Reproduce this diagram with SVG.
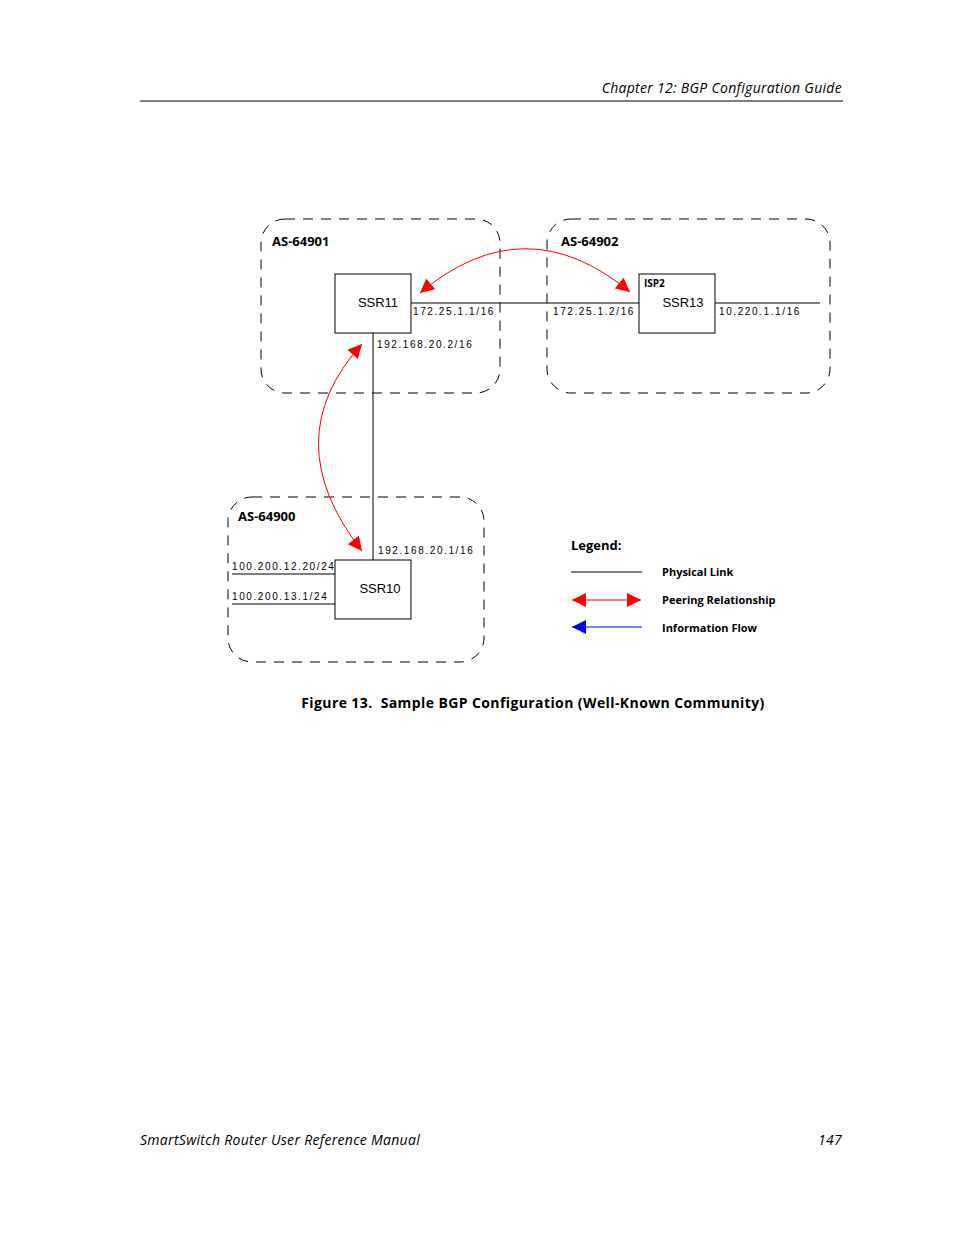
<svg xmlns="http://www.w3.org/2000/svg" width="954" height="1235" viewBox="0 0 954 1235">
<style>
.hdr{font-family:"Open Sans","DejaVu Sans",sans-serif;font-style:italic;font-size:14px;fill:#000;letter-spacing:0.3px}
.as{font-family:"Open Sans","DejaVu Sans",sans-serif;font-weight:bold;font-size:13px}
.nm{font-family:"Liberation Sans",Arial,sans-serif;font-size:13px}
.ip{font-family:"Liberation Sans",Arial,sans-serif;font-size:10px;letter-spacing:1.6px}
.lg{font-family:"Open Sans","DejaVu Sans",sans-serif;font-weight:bold;font-size:11px}
.box{fill:#fff;stroke:#000;stroke-width:1}
.dash{fill:none;stroke:#000;stroke-width:1;stroke-dasharray:10,8}
.ln{stroke:#000;stroke-width:1;fill:none}
.red{stroke:#f00;stroke-width:1;fill:none}
</style>
<defs>
<marker id="ar" viewBox="0 0 10 10" refX="10" refY="5" markerWidth="18" markerHeight="14" markerUnits="userSpaceOnUse" orient="auto-start-reverse"><path d="M0,0 L10,5 L0,10 Z" fill="#f00"/></marker>
<marker id="ab" viewBox="0 0 10 10" refX="10" refY="5" markerWidth="18" markerHeight="14" markerUnits="userSpaceOnUse" orient="auto-start-reverse"><path d="M0,0 L10,5 L0,10 Z" fill="#00f"/></marker>
</defs>
<text class="hdr" x="842" y="93" text-anchor="end">Chapter 12: BGP Configuration Guide</text>
<line x1="140" y1="101" x2="843" y2="101" stroke="#000"/>
<g id="as64901"><rect class="dash" x="261" y="219" width="239" height="174" rx="24"/><text class="as" x="272" y="246">AS-64901</text></g>
<g id="as64902"><rect class="dash" x="547" y="219" width="283" height="174" rx="24"/><text class="as" x="561" y="246">AS-64902</text></g>
<g id="as64900"><rect class="dash" x="228" y="497" width="256" height="165" rx="24"/><text class="as" x="238" y="521">AS-64900</text></g>
<g id="connectors">
<line class="ln" x1="411" y1="303" x2="639" y2="303"/>
<line class="ln" x1="715" y1="303" x2="820" y2="303"/>
<line class="ln" x1="373" y1="333" x2="373" y2="560"/>
<line class="ln" x1="232" y1="574" x2="335" y2="574"/>
<line class="ln" x1="232" y1="604" x2="335" y2="604"/>
<path class="red" d="M420,293 Q525,205 630,292" marker-start="url(#ar)" marker-end="url(#ar)"/>
<path class="red" d="M362,344 Q275,440 362,551" marker-start="url(#ar)" marker-end="url(#ar)"/>
</g>
<g id="ssr11"><rect class="box" x="335" y="274" width="76" height="59"/><text class="nm" x="378" y="307" text-anchor="middle">SSR11</text></g>
<g id="ssr13"><rect class="box" x="639" y="274" width="76" height="59"/><text class="lg" x="644" y="287" style="font-size:10px">ISP2</text><text class="nm" x="683" y="307" text-anchor="middle">SSR13</text></g>
<g id="ssr10"><rect class="box" x="335" y="560" width="76" height="59"/><text class="nm" x="380" y="593" text-anchor="middle">SSR10</text></g>
<g class="ip">
<text x="413" y="315">172.25.1.1/16</text>
<text x="553" y="315">172.25.1.2/16</text>
<text x="719" y="315">10.220.1.1/16</text>
<text x="377" y="348">192.168.20.2/16</text>
<text x="378" y="554">192.168.20.1/16</text>
<text x="232" y="570">100.200.12.20/24</text>
<text x="232" y="600">100.200.13.1/24</text>
</g>
<g id="legend">
<text class="as" x="571" y="550">Legend:</text>
<line class="ln" x1="571" y1="572" x2="642" y2="572"/>
<line class="red" x1="572" y1="600" x2="641" y2="600" marker-start="url(#ar)" marker-end="url(#ar)"/>
<line x1="572" y1="627" x2="642" y2="627" stroke="#00f" marker-start="url(#ab)"/>
<text class="lg" x="662" y="576">Physical Link</text>
<text class="lg" x="662" y="604">Peering Relationship</text>
<text class="lg" x="662" y="632">Information Flow</text>
</g>
<text x="533" y="708" text-anchor="middle" font-family="Open Sans, DejaVu Sans, sans-serif" font-weight="bold" font-size="14" letter-spacing="0.4" xml:space="preserve">Figure 13.  Sample BGP Configuration (Well-Known Community)</text>
<text class="hdr" x="140" y="1145">SmartSwitch Router User Reference Manual</text>
<text class="hdr" x="842" y="1145" text-anchor="end">147</text>
</svg>
